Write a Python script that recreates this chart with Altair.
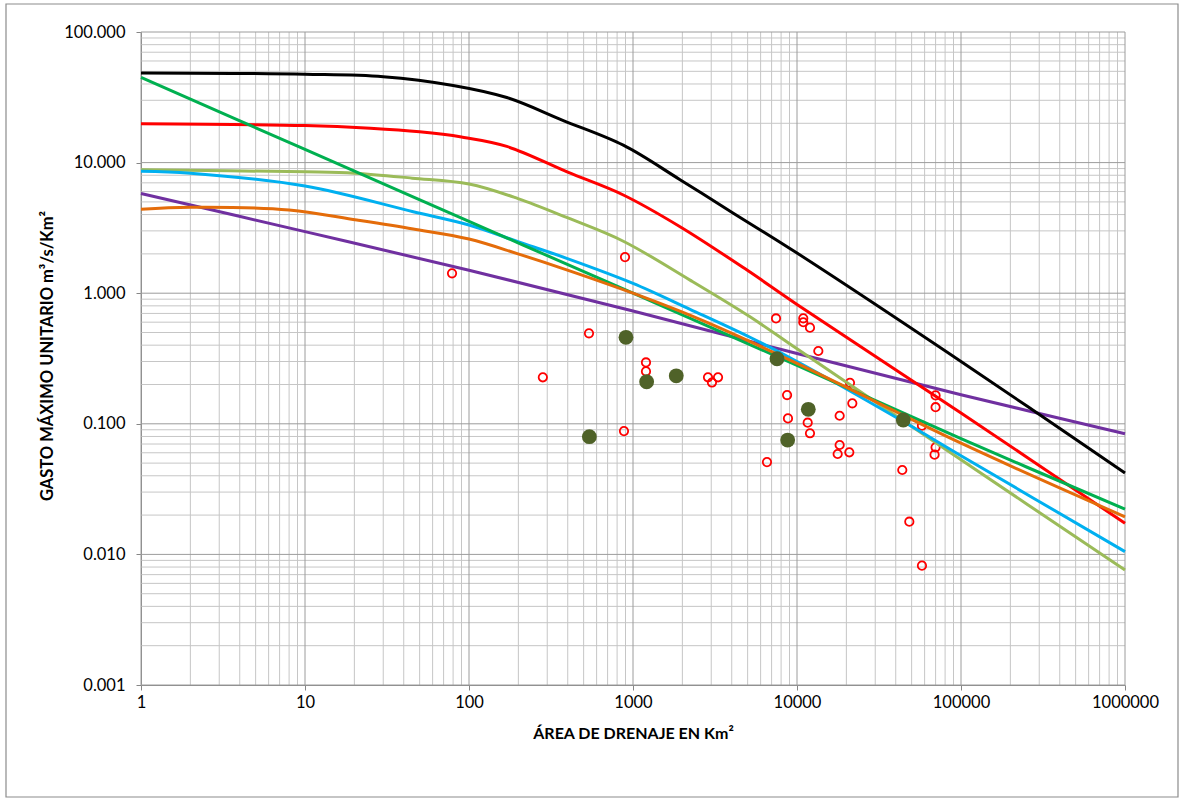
import altair as alt
import pandas as pd

# Envelope curves: drainage area (km²) against unit peak discharge (m³/s/km²)
black_area = [1, 10, 30, 80, 170, 376, 873, 1936, 4090, 10000, 100000, 1000000]
black_q = [48.5, 47.5, 45.5, 39.0, 31.5, 21.0, 13.6, 7.4, 4.1, 2.03, 0.30, 0.042]

red_area = [1, 10, 25, 50, 90, 170, 400, 873, 1936, 4930, 10000, 100000, 1000000]
red_q = [19.8, 19.2, 18.3, 17.2, 15.7, 13.3, 8.45, 5.65, 3.23, 1.51, 0.82, 0.121, 0.0173]

green_area = [1, 10, 100, 1000, 10000, 100000, 1000000]
green_q = [45.0, 12.6, 3.55, 1.0, 0.28, 0.077, 0.0222]

lgreen_area = [1, 10, 20, 45, 100, 199, 394, 873, 2228, 5170, 10000, 100000, 1000000]
lgreen_q = [8.8, 8.5, 8.3, 7.6, 6.85, 5.3, 3.8, 2.5, 1.26, 0.66, 0.375, 0.053, 0.0076]

blue_area = [1, 2, 10, 45.7, 100, 199, 394, 1000, 2228, 5170, 10000, 44480, 100000, 1000000]
blue_q = [8.6, 8.3, 6.62, 4.21, 3.33, 2.48, 1.85, 1.19, 0.753, 0.46, 0.30, 0.104, 0.057, 0.0105]

orange_area = [1, 2, 8, 20.7, 45.7, 100, 199, 394, 1000, 2560, 10000, 100000, 1000000]
orange_q = [4.39, 4.55, 4.34, 3.63, 3.1, 2.6, 2.0, 1.51, 1.0, 0.63, 0.29, 0.071, 0.0194]

purple_area = [1, 10, 100, 1000, 10000, 100000, 1000000]
purple_q = [5.8, 2.96, 1.5, 0.73, 0.345, 0.167, 0.084]

# Observed stations (open red circles)
obs_area = [78.8, 282, 539, 894, 881, 1200, 1200, 2866, 3030, 3300, 6560, 7450, 8700,
            8810, 10920, 10920, 12000, 13490, 11620, 12000, 21040, 21740, 18200, 18200,
            17700, 20840, 43850, 57800, 69980, 69980, 69980, 69000, 48400, 57800]
obs_q = [1.42, 0.227, 0.493, 1.89, 0.0879, 0.295, 0.252, 0.227, 0.207, 0.227, 0.0509, 0.641,
         0.166, 0.110, 0.642, 0.599, 0.545, 0.361, 0.102, 0.0846, 0.206, 0.1435, 0.1153,
         0.0688, 0.0587, 0.0605, 0.0443, 0.0967, 0.165, 0.134, 0.066, 0.058, 0.0178, 0.0082]

# Basin stations (filled dark green)
basin_area = [906, 542, 1211, 1836, 7550, 11720, 8770, 44480]
basin_q = [0.459, 0.0797, 0.210, 0.233, 0.315, 0.129, 0.0751, 0.107]

# Axis ticks and grid positions
x_ticks = [1, 10, 100, 1000, 10000, 100000, 1000000]
y_ticks = [0.001, 0.01, 0.1, 1, 10, 100]
x_minor = [k * d for d in x_ticks[:-1] for k in range(2, 10)]
y_minor = [k * d for d in y_ticks[:-1] for k in range(2, 10)]

curves = [
    ("purple", purple_area, purple_q, "#7030A0"),
    ("red", red_area, red_q, "#FF0000"),
    ("lgreen", lgreen_area, lgreen_q, "#9BBB59"),
    ("blue", blue_area, blue_q, "#00B0F0"),
    ("green", green_area, green_q, "#00B050"),
    ("orange", orange_area, orange_q, "#E46C0A"),
    ("black", black_area, black_q, "#000000"),
]

FONT = "Lato"
AXIS_GRAY = "#868686"
W, H = 984, 653

xs = alt.Scale(type="log", domain=[1, 1000000])
ys = alt.Scale(type="log", domain=[0.001, 100])

x_axis = alt.Axis(
    values=x_ticks, format="d", grid=False, tickSize=5, tickColor=AXIS_GRAY,
    domainColor=AXIS_GRAY, labelFont=FONT, labelFontSize=16.5, labelColor="#000000",
    labelPadding=4, labelFlush=False, labelOverlap=False,
    title="ÁREA DE DRENAJE EN Km²", titleFont=FONT, titleFontSize=16,
    titleFontWeight="bold", titleColor="#000000", titleX=W / 2, titleY=48,
    titleBaseline="middle", titleAlign="center",
)
y_axis = alt.Axis(
    values=y_ticks, format=".3f", grid=False, tickSize=5, tickColor=AXIS_GRAY,
    domainColor=AXIS_GRAY, labelFont=FONT, labelFontSize=16.5, labelColor="#000000",
    labelPadding=11, labelFlush=False, labelOverlap=False,
    title="GASTO MÁXIMO UNITARIO m³/s/Km²", titleFont=FONT, titleFontSize=16.5,
    titleFontWeight="bold", titleColor="#000000", titleX=-94, titleY=H / 2 - 3,
    titleAngle=270, titleBaseline="middle", titleAlign="center",
)

X = alt.X("area:Q", scale=xs, axis=x_axis)
Y = alt.Y("q:Q", scale=ys, axis=y_axis)

# Chart-area frame
frame = alt.Chart(pd.DataFrame({"k": [0]})).mark_rect(
    fillOpacity=0, stroke="#8c8c8c", strokeWidth=1.2
).encode(
    x=alt.value(-135), x2=alt.value(1037), y=alt.value(-28), y2=alt.value(765)
)

grid_minor_x = alt.Chart(pd.DataFrame({"area": x_minor})).mark_rule(
    color="#c6c6c6", strokeWidth=1
).encode(x=X)
grid_minor_y = alt.Chart(pd.DataFrame({"q": y_minor})).mark_rule(
    color="#c6c6c6", strokeWidth=1
).encode(y=Y)
grid_major_x = alt.Chart(pd.DataFrame({"area": x_ticks})).mark_rule(
    color="#9c9c9c", strokeWidth=1
).encode(x=X)
grid_major_y = alt.Chart(pd.DataFrame({"q": y_ticks})).mark_rule(
    color="#9c9c9c", strokeWidth=1
).encode(y=Y)

obs = alt.Chart(pd.DataFrame({"area": obs_area, "q": obs_q})).mark_point(
    shape="circle", filled=False, color="#FF0000", size=70, strokeWidth=1.8, opacity=1
).encode(x=X, y=Y)

lines = []
for name, a, q, col in curves:
    df = pd.DataFrame({"area": a, "q": q, "serie": name})
    lines.append(
        alt.Chart(df).mark_line(
            color=col, strokeWidth=3, interpolate="catmull-rom"
        ).encode(x=X, y=Y, order="area:Q")
    )

basin = alt.Chart(pd.DataFrame({"area": basin_area, "q": basin_q})).mark_point(
    shape="circle", filled=True, color="#4F6228", size=220, opacity=1
).encode(x=X, y=Y)

chart = alt.layer(
    frame, grid_minor_x, grid_minor_y, grid_major_x, grid_major_y, obs, *lines, basin
).properties(
    width=W, height=H,
    padding={"left": 141, "top": 32, "right": 56, "bottom": 114},
    autosize=alt.AutoSizeParams(type="none"),
    background="#ffffff",
).configure_view(strokeWidth=0)

chart.save("out.html", embed_options={"renderer": "svg", "actions": False})
